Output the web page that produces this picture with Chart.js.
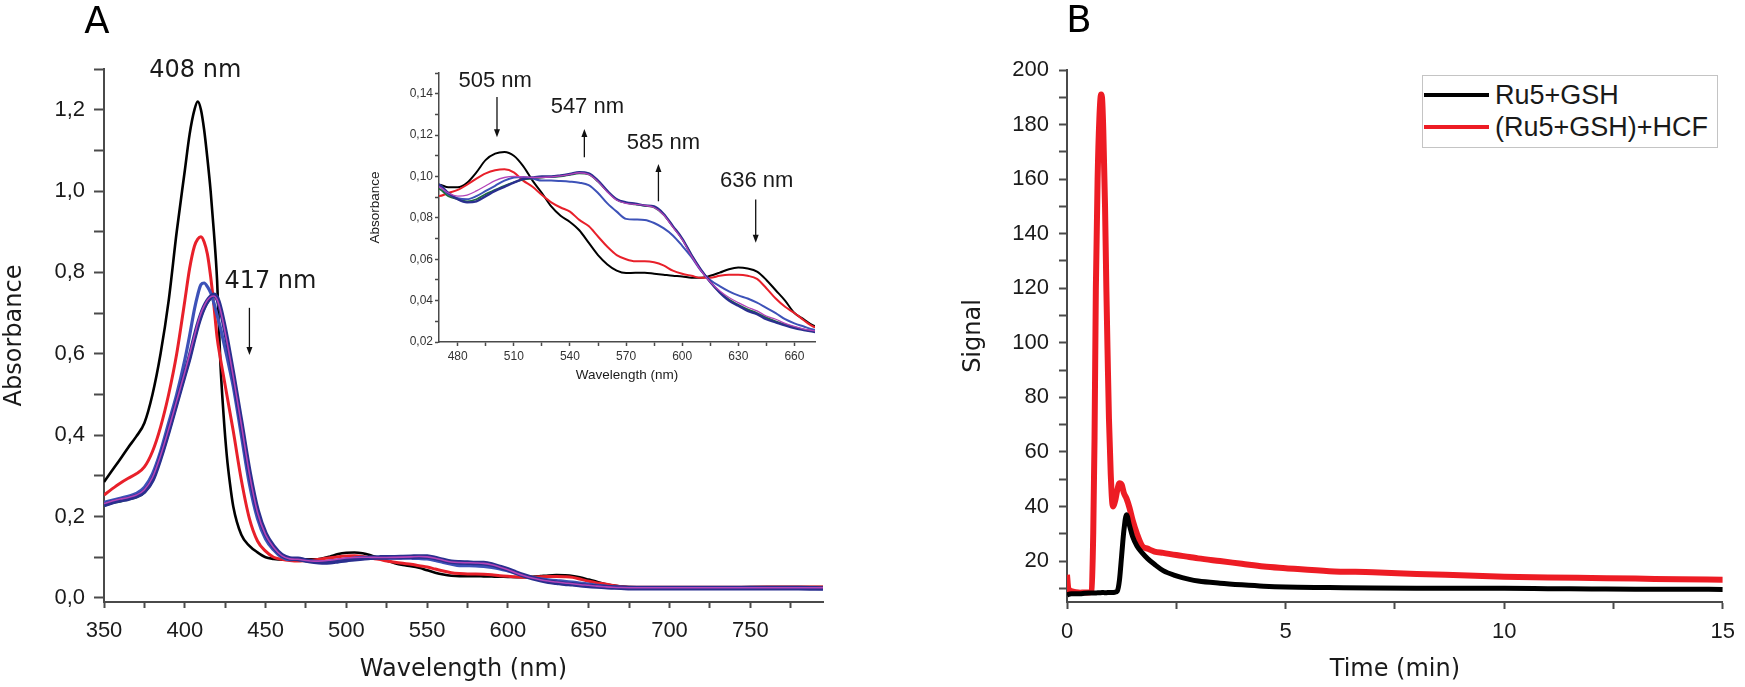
<!DOCTYPE html>
<html><head><meta charset="utf-8">
<script src="https://cdn.jsdelivr.net/npm/chart.js@4.4.1/dist/chart.umd.min.js"></script>
<style>
html,body{margin:0;padding:0;background:#fff;}
#wrap{position:relative;width:1745px;height:687px;overflow:hidden;background:#fff;}
canvas{position:absolute;}
#legend{position:absolute;left:1422px;top:75px;width:294px;height:71px;border:1px solid #c4c4c4;background:#fff;font-family:"Liberation Sans",Arial,sans-serif;font-size:27px;color:#1a1a1a;}
.row{position:absolute;left:0;width:294px;height:30px;}
.sw{position:absolute;left:1px;top:13px;width:65px;height:4px;}
.lt{position:absolute;left:72px;top:0;white-space:nowrap;line-height:30px;}
</style></head>
<body>
<div id="wrap">
  <canvas id="cA" width="840" height="687" style="left:0;top:0"></canvas>
  <canvas id="cI" width="470" height="330" style="left:360px;top:55px"></canvas>
  <canvas id="cB" width="865" height="687" style="left:880px;top:0"></canvas>
  <div id="legend">
    <div class="row" style="top:4px"><div class="sw" style="background:#000"></div><div class="lt">Ru5+GSH</div></div>
    <div class="row" style="top:36px"><div class="sw" style="background:#ed1c24"></div><div class="lt">(Ru5+GSH)+HCF</div></div>
  </div>
</div>
<script>
// ---------- Panel A data: UV-vis spectra ----------
const wavelength = [350,355,360,365,370,375,380,385,390,395,400,403,406,408,410,412,414,416,418,420,422,424,426,428,430,435,440,445,450,455,460,465,
470,475,480,485,490,495,500,505,510,515,520,525,530,535,540,545,550,555,560,565,570,575,580,585,590,595,600,605,610,615,620,625,630,635,640,645,650,655,660,665,670,
680,690,700,720,740,760,780,795];

const absBlack = [0.285,0.313,0.341,0.37,0.397,0.43,0.50,0.60,0.73,0.90,1.05,1.14,1.20,1.22,1.20,1.15,1.08,1.00,0.90,0.78,0.58,0.45,0.35,0.28,0.225,0.155,0.128,0.112,0.10,0.096,0.094,0.094,
0.096,0.0948,0.0948,0.097,0.102,0.108,0.111,0.1118,0.110,0.105,0.098,0.092,0.0855,0.081,0.078,0.074,0.068,0.062,0.0575,0.0545,0.0533,0.0535,0.0535,0.053,0.0525,0.052,0.0517,0.051,0.051,0.052,0.0535,0.0552,0.056,0.0555,0.054,0.050,0.045,0.040,0.034,0.031,0.028,
0.026,0.026,0.026,0.026,0.026,0.027,0.027,0.027];

const absRed = [0.253,0.268,0.282,0.294,0.305,0.322,0.36,0.42,0.50,0.60,0.73,0.81,0.865,0.882,0.888,0.875,0.845,0.79,0.72,0.64,0.59,0.545,0.50,0.455,0.41,0.29,0.195,0.14,0.115,0.10,0.095,0.092,
0.0905,0.092,0.0935,0.096,0.099,0.1015,0.103,0.1035,0.102,0.098,0.095,0.091,0.0875,0.085,0.083,0.079,0.076,0.071,0.066,0.062,0.060,0.059,0.059,0.0585,0.057,0.0545,0.053,0.052,0.051,0.051,0.052,0.0525,0.0525,0.052,0.0505,0.046,0.041,0.037,0.034,0.0305,0.0275,
0.026,0.026,0.026,0.026,0.026,0.027,0.027,0.027];

const absBlueLight = [0.235,0.24,0.245,0.25,0.257,0.272,0.305,0.36,0.43,0.50,0.585,0.645,0.71,0.745,0.77,0.774,0.765,0.75,0.725,0.695,0.665,0.63,0.595,0.558,0.52,0.40,0.28,0.195,0.145,0.118,0.10,0.094,
0.095,0.0915,0.0895,0.089,0.0905,0.093,0.0955,0.098,0.0995,0.0998,0.099,0.098,0.098,0.0978,0.0975,0.097,0.0958,0.092,0.087,0.083,0.0795,0.0792,0.079,0.0775,0.075,0.0715,0.0665,0.061,0.0545,0.050,0.047,0.0445,0.0425,0.041,0.039,0.0365,0.034,0.031,0.029,0.0275,0.026,
0.025,0.024,0.024,0.024,0.024,0.024,0.024,0.023];

const absBlueDark = [0.228,0.235,0.24,0.244,0.25,0.262,0.29,0.345,0.41,0.48,0.55,0.592,0.64,0.67,0.695,0.715,0.73,0.74,0.745,0.737,0.712,0.677,0.637,0.593,0.548,0.43,0.31,0.215,0.158,0.126,0.105,0.097,
0.096,0.092,0.089,0.0875,0.088,0.0905,0.093,0.095,0.097,0.0988,0.0995,0.100,0.100,0.1005,0.1012,0.102,0.1015,0.098,0.093,0.089,0.0875,0.0868,0.086,0.0855,0.082,0.076,0.070,0.062,0.055,0.049,0.044,0.040,0.0375,0.035,0.0335,0.031,0.0295,0.028,0.0267,0.0258,0.025,
0.024,0.024,0.024,0.024,0.024,0.024,0.024,0.023];

const absMagenta = [0.232,0.238,0.243,0.247,0.253,0.266,0.296,0.35,0.415,0.485,0.555,0.60,0.645,0.675,0.70,0.718,0.732,0.74,0.742,0.733,0.708,0.672,0.632,0.589,0.544,0.426,0.305,0.21,0.155,0.124,0.104,0.096,
0.095,0.092,0.0905,0.091,0.093,0.0955,0.098,0.0995,0.100,0.0998,0.0995,0.0995,0.0998,0.1003,0.101,0.1018,0.101,0.0975,0.0925,0.0885,0.087,0.0865,0.086,0.085,0.0815,0.0755,0.0695,0.0615,0.0545,0.049,0.0448,0.0415,0.039,0.0368,0.035,0.0325,0.031,0.029,0.0275,0.0262,0.0255,
0.025,0.025,0.025,0.025,0.025,0.025,0.025,0.025];

const absGreen = [0.226,0.233,0.237,0.242,0.247,0.259,0.287,0.34,0.405,0.475,0.545,0.587,0.635,0.665,0.69,0.71,0.725,0.735,0.74,0.734,0.711,0.676,0.636,0.592,0.547,0.429,0.309,0.214,0.157,0.125,0.104,0.095,
0.094,0.0905,0.089,0.088,0.089,0.0915,0.0935,0.0955,0.0972,0.0985,0.099,0.0995,0.0998,0.100,0.1008,0.1015,0.101,0.0975,0.0928,0.0888,0.0872,0.0865,0.0858,0.085,0.0815,0.0758,0.0698,0.062,0.0548,0.049,0.0442,0.0405,0.038,0.0358,0.034,0.0318,0.030,0.0285,0.0272,0.026,0.0252,
0.024,0.024,0.024,0.024,0.024,0.024,0.024,0.024];

// ---------- Panel B data: signal vs time ----------
const timeMin = [0,0.03,0.1,0.2,0.3,0.4,0.5,0.56,0.6,0.63,0.66,0.7,0.74,0.78,0.8,0.83,0.87,0.9,0.93,0.96,1.0,1.05,1.1,1.15,1.2,1.25,1.3,1.36,1.43,1.5,1.6,1.72,1.85,2.0,2.2,2.5,2.8,3.0,3.5,4.0,4.5,5.0,6.0,7.0,8.0,9.0,10.0,11.0,12.0,13.0,14.0,15.0];
const signalRu5GSH = [7.5,7.8,8,8,8,8.2,8.3,8.3,8.3,8.3,8.3,8.4,8.4,8.4,8.5,8.5,8.4,8.4,8.5,8.5,8.5,8.5,8.6,9,13,22,31,37,33,29,25.5,23,20.8,18.8,16.5,14.6,13.3,12.7,11.9,11.3,10.8,10.5,10.3,10.1,10,10,10,9.9,9.8,9.7,9.7,9.6];
const signalRu5GSH_HCF = [15,10,9,8.6,8.4,8.5,8.5,9,30,65,120,160,182,191,190,178,150,120,95,72,52,40,42,46,48.5,48,45,43,39.5,35,30,25.5,24.5,23.5,23,22.2,21.5,21,20,19,18,17.4,16.3,15.9,15.3,14.8,14.3,14,13.8,13.6,13.3,13.2];

const seriesNamesB = ['Ru5+GSH','(Ru5+GSH)+HCF'];

// ---------- helpers ----------
const pts = (xs, ys) => xs.map((x, i) => ({x: x, y: ys[i]}));
const AX = '#4a4a4a';
const TXT = '#1a1a1a';
const FONT_TICK = {family: '"Liberation Sans", Arial, sans-serif', size: 22, lineHeight: 1.2};
const FONT_TITLE = {family: '"DejaVu Sans", sans-serif', size: 24, lineHeight: 1.2};
const FONT_TICK_S = {family: '"Liberation Sans", Arial, sans-serif', size: 12, lineHeight: 1.2};
const FONT_TITLE_S = {family: '"Liberation Sans", Arial, sans-serif', size: 13.5, lineHeight: 1.2};
const comma = (v, d) => v.toFixed(d).replace('.', ',');

const specStyles = [
  {data: absMagenta, color: '#b444b8', w: 1.6, wi: 1.3},
  {data: absBlueDark, color: '#2a2f8f', w: 4.6, wi: 2.4},
  {data: absBlueLight, color: '#3d52b8', w: 3.2, wi: 2.0},
  {data: absGreen, color: '#1e6e3e', w: 2.4, wi: 1.8},
  {data: absRed, color: '#e8202a', w: 3.0, wi: 2.0},
  {data: absBlack, color: '#000000', w: 2.6, wi: 2.0}
];

function specDatasets(inset) {
  return specStyles.map(s => ({
    data: pts(wavelength, s.data), borderColor: s.color, borderWidth: inset ? s.wi : s.w,
    pointRadius: 0, fill: false, cubicInterpolationMode: 'monotone'
  }));
}

function drawArrow(ctx, x, y1, y2, color, lw) {
  ctx.save();
  ctx.strokeStyle = color; ctx.fillStyle = color; ctx.lineWidth = lw;
  const dir = y2 > y1 ? 1 : -1;
  ctx.beginPath(); ctx.moveTo(x, y1); ctx.lineTo(x, y2 - dir * 6); ctx.stroke();
  ctx.beginPath(); ctx.moveTo(x - 3, y2 - dir * 8); ctx.lineTo(x + 3, y2 - dir * 8); ctx.lineTo(x, y2); ctx.closePath(); ctx.fill();
  ctx.restore();
}

function notesPlugin(notes, arrows, font, panelLabel) {
  return {
    id: 'notes',
    afterDraw(chart) {
      const ctx = chart.ctx, sx = chart.scales.x, sy = chart.scales.y;
      ctx.save();
      ctx.fillStyle = TXT; ctx.textAlign = 'center'; ctx.textBaseline = 'middle';
      ctx.font = font;
      notes.forEach(n => ctx.fillText(n.text, sx.getPixelForValue(n.x), sy.getPixelForValue(n.y)));
      arrows.forEach(a => drawArrow(ctx, sx.getPixelForValue(a.x), sy.getPixelForValue(a.from), sy.getPixelForValue(a.to), '#111', 1.3));
      if (panelLabel) {
        ctx.font = '37px "DejaVu Sans", sans-serif';
        ctx.fillStyle = '#000';
        ctx.fillText(panelLabel.text, panelLabel.px, panelLabel.py);
      }
      ctx.restore();
    }
  };
}

function axis(opts) {
  return {
    type: 'linear', min: opts.min, max: opts.max,
    afterFit: opts.fit,
    ticks: {stepSize: opts.step, includeBounds: false, autoSkip: false, maxRotation: 0, padding: opts.pad,
            color: opts.tickColor || TXT, font: opts.tickFont, callback: opts.label},
    grid: {display: true, drawOnChartArea: false, drawTicks: true, tickLength: opts.tl, tickWidth: opts.bw, tickColor: AX, color: AX},
    border: {display: true, color: AX, width: opts.bw},
    title: {display: true, text: opts.title, font: opts.titleFont, color: TXT, padding: opts.titlePad}
  };
}

const common = {responsive: false, animation: false, devicePixelRatio: 1,
  plugins: {legend: {display: false}, tooltip: {enabled: false}}};

// ---------- Chart A (main) ----------
new Chart(document.getElementById('cA'), {
  type: 'line',
  data: {datasets: specDatasets(false)},
  options: Object.assign({}, common, {
    layout: {padding: {left: 0, top: 69, right: 17, bottom: 0}},
    scales: {
      x: axis({min: 350, max: 795, step: 25, pad: 10, tl: 6, bw: 2, tickFont: FONT_TICK,
        fit: s => { s.height = 85; },
        label: v => (Math.round(v) % 50 === 0 ? String(Math.round(v)) : ''),
        title: 'Wavelength (nm)', titleFont: FONT_TITLE, titlePad: {top: 0, bottom: 3}}),
      y: axis({min: -0.01, max: 1.3, step: 0.1, pad: 9, tl: 10, bw: 2, tickFont: FONT_TICK,
        fit: s => { s.width = 104; },
        label: v => (Math.round(v * 10) % 2 === 0 && v < 1.25 ? comma(v, 1) : ''),
        title: 'Absorbance', titleFont: FONT_TITLE, titlePad: {top: 0, bottom: 0}})
    }
  }),
  plugins: [notesPlugin(
    [{text: '408 nm', x: 406.5, y: 1.296}, {text: '417 nm', x: 453, y: 0.777}],
    [{x: 440, from: 0.713, to: 0.597}],
    '24px "DejaVu Sans", sans-serif',
    {text: 'A', px: 97, py: 23})]
});

// ---------- Chart A inset ----------
new Chart(document.getElementById('cI'), {
  type: 'line',
  data: {datasets: specDatasets(true)},
  options: Object.assign({}, common, {
    layout: {padding: {left: 0, top: 18, right: 15, bottom: 0}},
    scales: {
      x: axis({min: 470, max: 671, step: 15, pad: 3, tl: 4, bw: 1.5, tickFont: FONT_TICK_S, tickColor: '#333',
        fit: s => { s.height = 43; },
        label: v => (Math.round(v) % 30 === 0 ? String(Math.round(v)) : ''),
        title: 'Wavelength (nm)', titleFont: FONT_TITLE_S, titlePad: {top: 0, bottom: 2}}),
      y: axis({min: 0.02, max: 0.15, step: 0.01, pad: 2, tl: 4, bw: 1.5, tickFont: FONT_TICK_S, tickColor: '#333',
        fit: s => { s.width = 79; },
        label: v => (Math.round(v * 100) % 2 === 0 ? comma(v, 2) : ''),
        title: 'Absorbance', titleFont: FONT_TITLE_S, titlePad: {top: 7, bottom: 0}})
    }
  }),
  plugins: [notesPlugin(
    [{text: '505 nm', x: 500, y: 0.1462}, {text: '547 nm', x: 549.3, y: 0.1336},
     {text: '585 nm', x: 590, y: 0.1161}, {text: '636 nm', x: 639.8, y: 0.0977}],
    [{x: 501, from: 0.1384, to: 0.119}, {x: 547.7, from: 0.1093, to: 0.1229},
     {x: 587.3, from: 0.088, to: 0.106}, {x: 639.3, from: 0.0889, to: 0.068}],
    '22px "Liberation Sans", Arial, sans-serif', null)]
});

// ---------- Chart B ----------
new Chart(document.getElementById('cB'), {
  type: 'line',
  data: {datasets: [
    {label: seriesNamesB[0], data: pts(timeMin, signalRu5GSH), borderColor: '#000000', borderWidth: 5,
     pointRadius: 0, fill: false, cubicInterpolationMode: 'monotone'},
    {label: seriesNamesB[1], data: pts(timeMin, signalRu5GSH_HCF), borderColor: '#ed1c24', borderWidth: 6,
     pointRadius: 0, fill: false, cubicInterpolationMode: 'monotone'}
  ]},
  options: Object.assign({}, common, {
    layout: {padding: {left: 78, top: 70, right: 16, bottom: 0}},
    scales: {
      x: axis({min: 0, max: 15, step: 2.5, pad: 10, tl: 7, bw: 2, tickFont: FONT_TICK,
        fit: s => { s.height = 85; },
        label: v => (Math.abs(v % 5) < 1e-9 ? String(Math.round(v)) : ''),
        title: 'Time (min)', titleFont: FONT_TITLE, titlePad: {top: 0, bottom: 3}}),
      y: axis({min: 5, max: 200, step: 10, pad: 10, tl: 8, bw: 2, tickFont: FONT_TICK,
        fit: s => { s.width = 109; },
        label: v => (Math.round(v) % 20 === 0 ? String(Math.round(v)) : ''),
        title: 'Signal', titleFont: FONT_TITLE, titlePad: {top: 1, bottom: 0}})
    }
  }),
  plugins: [notesPlugin([], [], '24px "DejaVu Sans", sans-serif', {text: 'B', px: 199, py: 22})]
});
</script>
</body></html>
